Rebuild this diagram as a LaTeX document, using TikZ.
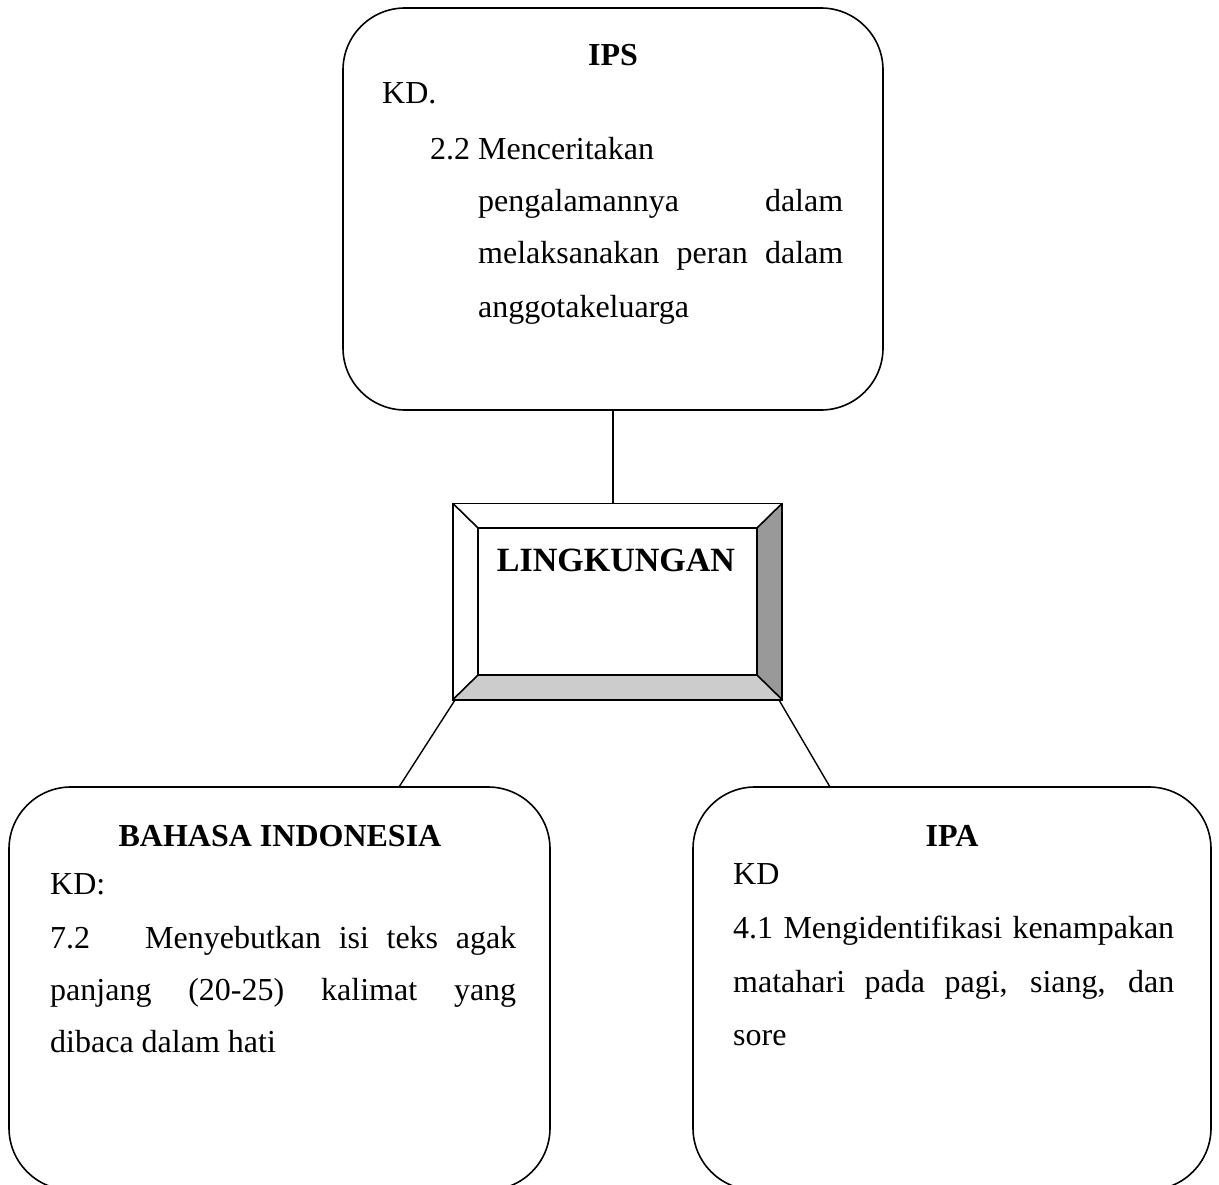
\documentclass[tikz,border=0pt]{standalone}
\usepackage{fontspec}
\setmainfont{Liberation Serif}[Ligatures=NoCommon]
\newcommand{\mainfs}{\fontsize{32}{38}\selectfont}
\newcommand{\lingfs}{\fontsize{34}{40}\selectfont\bfseries}
\definecolor{bevelright}{HTML}{999999}
\definecolor{bevelbottom}{HTML}{CCCCCC}
\tikzset{
  rbox/.style={draw, line width=1.6pt, rounded corners=62pt, inner sep=0pt},
  txt/.style={anchor=base west, inner sep=0pt, font=\mainfs},
  ttl/.style={anchor=base, inner sep=0pt, font=\mainfs\bfseries},
  conn/.style={draw, line width=1.4pt},
}
\begin{document}
\begin{tikzpicture}[x=1pt,y=-1pt]
\useasboundingbox (0,0) rectangle (1219,1185);
\clip (0,0) rectangle (1219,1185);
\fill[white] (0,0) rectangle (1219,1185);

% boxes
\node[rbox, minimum width=540pt, minimum height=402pt] (ips) at (613,209) {};
\node[rbox, minimum width=541pt, minimum height=403pt] (bahasa) at (279.5,988.5) {};
\node[rbox, minimum width=518pt, minimum height=403pt] (ipa) at (952,988.5) {};

% bevel box
\node[minimum width=329pt, minimum height=196pt, inner sep=0pt] (ling) at (617.5,601.5) {};
\node[minimum width=279pt, minimum height=147pt, inner sep=0pt] (lingin) at (617.5,601.5) {};
\fill[bevelright] (ling.north east) -- (ling.south east) -- (lingin.south east) -- (lingin.north east) -- cycle;
\fill[bevelbottom] (ling.south west) -- (ling.south east) -- (lingin.south east) -- (lingin.south west) -- cycle;
\draw[line width=1.6pt] (ling.north west) rectangle (ling.south east);
\draw[line width=1.6pt] (lingin.north west) rectangle (lingin.south east);
\draw[line width=1.6pt] (ling.north west) -- (lingin.north west)
  (ling.north east) -- (lingin.north east)
  (ling.south west) -- (lingin.south west)
  (ling.south east) -- (lingin.south east);
\node[anchor=base, inner sep=0pt, font=\lingfs] (lingtxt) at (616,571) {LINGKUNGAN};

% connectors
\coordinate (bl) at (399,787);
\coordinate (br) at (830,787);
\coordinate (lsw) at (455,700);
\coordinate (lse) at (779,700);
\path[conn] (ips.south) -- (ips.south |- ling.north);
\path[conn] (lsw) -- (bl);
\path[conn] (lse) -- (br);

% IPS text
\node[ttl] (ipsT) at (613,66) {IPS};
\node[txt] (ipsKD) at (382,104) {KD.};
\node[txt] (ips1) at (430,160) {2.2 Menceritakan};
\node[txt] (ips2) at (478,212) {\makebox[365pt][s]{pengalamannya dalam}};
\node[txt] (ips3) at (478,264) {\makebox[365pt][s]{melaksanakan peran dalam}};
\node[txt] (ips4) at (478,317) {anggotakeluarga};

% BAHASA INDONESIA text
\node[ttl] (bT) at (280,846) {BAHASA INDONESIA};
\node[txt] (bKD) at (50,894) {KD:};
\node[txt] (b1) at (50,948) {\makebox[466pt][s]{\makebox[95pt][l]{7.2}Menyebutkan isi teks agak}};
\node[txt] (b2) at (50,1000) {\makebox[466pt][s]{panjang (20-25) kalimat yang}};
\node[txt] (b3) at (50,1052) {dibaca dalam hati};

% IPA text
\node[ttl] (aT) at (952,846) {IPA};
\node[txt] (aKD) at (733,884) {KD};
\node[txt] (a1) at (733,938) {\makebox[441pt][s]{4.1 Mengidentifikasi kenampakan}};
\node[txt] (a2) at (733,992) {\makebox[441pt][s]{matahari pada pagi, siang, dan}};
\node[txt] (a3) at (733,1045) {sore};
\end{tikzpicture}
\end{document}
